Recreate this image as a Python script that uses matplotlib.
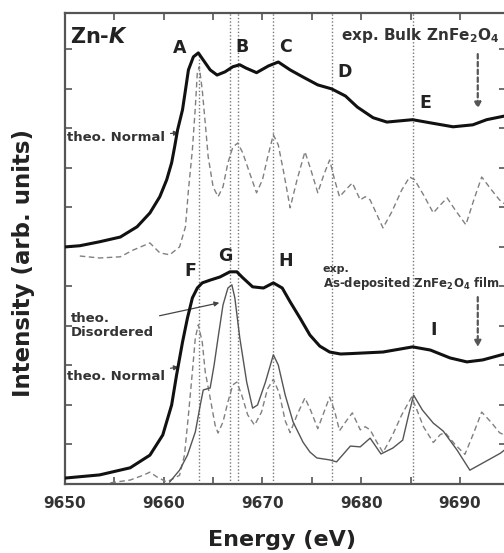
import numpy as np
import matplotlib
matplotlib.use("Agg")
import matplotlib.pyplot as plt

plt.rcParams['font.family'] = ['DejaVu Sans']
plt.rcParams['mathtext.fontset'] = 'custom'
plt.rcParams['mathtext.rm'] = 'DejaVu Sans:bold'
plt.rcParams['mathtext.it'] = 'DejaVu Sans:bold:italic'
plt.rcParams['mathtext.bf'] = 'DejaVu Sans:bold'

# exp. bulk ZnFe2O4 (upper thick curve)
bulk_e = [9650.0, 9651.5, 9653.5, 9655.6, 9657.3, 9658.6, 9659.6, 9660.3, 9660.8, 9661.1,
          9661.4, 9661.9, 9662.2, 9662.5, 9663.0, 9663.5, 9664.0, 9664.7, 9665.4, 9666.2,
          9667.0, 9667.7, 9668.3, 9669.4, 9670.6, 9671.6, 9672.8, 9674.1, 9675.6, 9677.0,
          9678.4, 9679.6, 9681.2, 9682.6, 9685.2, 9687.0, 9689.3, 9691.3, 9692.7, 9694.66]
bulk_i = [6.00, 6.03, 6.13, 6.25, 6.51, 6.86, 7.27, 7.70, 8.13, 8.53,
          8.96, 9.47, 9.97, 10.48, 10.81, 10.91, 10.73, 10.48, 10.35, 10.43,
          10.56, 10.61, 10.53, 10.41, 10.58, 10.68, 10.48, 10.30, 10.10, 10.00,
          9.82, 9.54, 9.27, 9.16, 9.22, 9.14, 9.04, 9.09, 9.22, 9.32]

# theo. normal, upper panel (dashed)
norm1_e = [9651.5, 9653.5, 9655.6, 9656.9, 9658.6, 9659.6, 9660.6, 9661.6, 9662.2, 9662.5,
           9662.9, 9663.2, 9663.4, 9663.6, 9663.9, 9664.2, 9664.5, 9665.0, 9665.5, 9666.0,
           9666.5, 9667.0, 9667.5, 9668.0, 9668.7, 9669.4, 9670.0, 9670.5, 9671.1, 9671.6,
           9672.1, 9672.8, 9673.5, 9674.3, 9674.9, 9675.6, 9676.2, 9676.8, 9677.3, 9677.8,
           9678.6, 9679.1, 9679.9, 9680.4, 9680.9, 9681.6, 9682.2, 9683.1, 9684.1, 9684.9,
           9685.4, 9686.3, 9687.3, 9688.0, 9688.7, 9689.5, 9690.6, 9691.4, 9692.2, 9693.2,
           9694.0, 9694.66]
norm1_i = [5.77, 5.72, 5.75, 5.92, 6.10, 5.85, 5.80, 6.00, 6.51, 7.44,
           8.46, 9.54, 10.41, 10.56, 9.97, 9.14, 8.28, 7.52, 7.27, 7.52,
           8.13, 8.53, 8.63, 8.38, 7.87, 7.37, 7.70, 8.25, 8.84, 8.58,
           7.95, 6.99, 7.70, 8.41, 7.95, 7.37, 7.82, 8.20, 7.70, 7.27,
           7.49, 7.62, 7.19, 7.27, 7.19, 6.81, 6.48, 6.89, 7.44, 7.77,
           7.70, 7.32, 6.86, 7.06, 7.24, 6.94, 6.56, 7.19, 7.77, 7.44,
           7.19, 7.06]

# exp. as-deposited film (lower thick curve)
film_e = [9650.0, 9653.5, 9656.6, 9658.6, 9659.9, 9660.8, 9661.3, 9661.9, 9662.4, 9662.9,
          9663.4, 9663.9, 9664.7, 9665.7, 9666.7, 9667.4, 9668.0, 9669.0, 9670.1, 9671.1,
          9672.0, 9672.8, 9673.8, 9674.8, 9675.8, 9676.8, 9677.9, 9678.9, 9682.2, 9685.2,
          9687.0, 9689.0, 9690.7, 9692.3, 9694.66]
film_i = [0.15, 0.23, 0.41, 0.73, 1.24, 2.00, 2.76, 3.59, 4.20, 4.71,
          4.96, 5.09, 5.16, 5.24, 5.37, 5.37, 5.22, 4.99, 4.96, 5.09,
          4.96, 4.61, 4.20, 3.77, 3.49, 3.34, 3.29, 3.30, 3.34, 3.47,
          3.39, 3.19, 3.09, 3.14, 3.30]

# theo. normal, lower panel (dashed)
norm2_e = [9654.6, 9656.6, 9657.9, 9658.6, 9659.3, 9660.3, 9661.6, 9662.1, 9662.5, 9662.9,
           9663.2, 9663.5, 9663.9, 9664.2, 9664.7, 9665.2, 9665.5, 9666.0, 9666.5, 9667.0,
           9667.4, 9667.9, 9668.5, 9669.2, 9669.9, 9670.5, 9671.1, 9671.7, 9672.3, 9672.8,
           9673.5, 9674.3, 9674.9, 9675.6, 9676.2, 9676.8, 9677.3, 9677.8, 9678.5, 9679.1,
           9679.9, 9680.4, 9680.9, 9681.6, 9682.2, 9683.1, 9684.1, 9685.1, 9685.6, 9686.3,
           9687.3, 9688.0, 9688.5, 9689.5, 9690.5, 9691.4, 9692.2, 9693.2, 9694.0, 9694.66]
norm2_i = [0.03, 0.10, 0.22, 0.30, 0.18, 0.05, 0.22, 0.73, 1.75, 2.84,
           3.70, 4.03, 3.59, 2.84, 2.18, 1.49, 1.29, 1.57, 2.08, 2.51,
           2.58, 2.25, 1.75, 1.49, 1.82, 2.40, 2.65, 2.30, 1.60, 1.30,
           1.75, 2.18, 1.85, 1.40, 1.80, 2.20, 1.85, 1.35, 1.60, 1.80,
           1.37, 1.45, 1.37, 1.05, 0.80, 1.20, 1.75, 2.20, 1.90, 1.45,
           1.05, 1.25, 1.30, 1.00, 0.75, 1.30, 1.82, 1.55, 1.30, 1.22]

# theo. disordered, lower panel (thin solid)
dis_e = [9660.6, 9661.6, 9662.4, 9663.2, 9663.7, 9664.0, 9664.7, 9665.1, 9665.5, 9666.0,
         9666.5, 9666.9, 9667.2, 9667.7, 9668.4, 9669.0, 9669.5, 9670.3, 9671.1, 9671.6,
         9672.3, 9673.1, 9674.1, 9674.8, 9675.5, 9676.8, 9677.5, 9678.9, 9679.9, 9680.9,
         9682.0, 9683.2, 9684.2, 9684.8, 9685.3, 9686.2, 9687.3, 9688.3, 9689.7, 9691.0,
         9692.3, 9694.1, 9694.66]
dis_i = [0.05, 0.35, 0.73, 1.32, 2.00, 2.38, 2.43, 3.01, 3.70, 4.53,
         4.96, 5.04, 4.71, 3.70, 2.58, 1.92, 2.00, 2.58, 3.27, 3.01,
         2.25, 1.57, 1.06, 0.81, 0.66, 0.61, 0.56, 0.96, 0.94, 1.16,
         0.76, 0.91, 1.11, 1.75, 2.25, 1.87, 1.54, 1.34, 0.86, 0.35,
         0.53, 0.78, 0.89]

# dotted reference energies
ref_e = [9663.6, 9666.7, 9667.5, 9671.1, 9677.0, 9685.2]

peak_labels = ['A', 'B', 'C', 'D', 'E', 'F', 'G', 'H', 'I']
peak_x = [9661.65, 9667.9, 9672.3, 9678.35, 9686.45, 9662.65, 9666.2, 9672.35, 9687.3]
peak_y = [11.04, 11.06, 11.06, 10.43, 9.65, 5.39, 5.77, 5.65, 3.90]

fig = plt.figure(figsize=(5.04, 5.53), dpi=100)
ax = fig.add_axes([65/504, 69/553, 441/504, 471/553])

for k, e in enumerate(ref_e):
    top = 10.9 if k == 0 else 11.92
    ax.plot([e, e], [0, top], color='#777777', lw=1.0, ls=(0, (1, 1.5)), zorder=1)

ax.plot(norm1_e, norm1_i, color='#808080', lw=1.0, ls=(0, (4, 2.5)), zorder=2)
ax.plot(norm2_e, norm2_i, color='#808080', lw=1.0, ls=(0, (4, 2.5)), zorder=2)
ax.plot(dis_e, dis_i, color='#555555', lw=1.0, zorder=3)
ax.plot(bulk_e, bulk_i, color='#111111', lw=2.2, zorder=4)
ax.plot(film_e, film_i, color='#111111', lw=2.2, zorder=4)

for lab, x, y in zip(peak_labels, peak_x, peak_y):
    ax.text(x, y, lab, ha='center', va='center', fontsize=12.5, fontweight='bold', color='#222222')

ax.text(9650.5, 11.32, 'Zn-$K$', ha='left', va='center', fontsize=15, fontweight='bold', color='#222222')
ax.text(9677.9, 11.36, 'exp. Bulk ZnFe$_2$O$_4$', ha='left', va='center', fontsize=11,
        fontweight='bold', color='#333333')
ax.text(9676.1, 5.43, 'exp.', ha='left', va='center', fontsize=8, fontweight='bold', color='#333333')
ax.text(9676.1, 5.08, 'As-deposited ZnFe$_2$O$_4$ film', ha='left', va='center', fontsize=8.5,
        fontweight='bold', color='#333333')

arrow_kw = dict(arrowstyle='-|>', color='#444444', lw=0.9, mutation_scale=7)
ax.annotate('theo. Normal', xy=(9661.8, 8.89), xytext=(9650.2, 8.78), ha='left', va='center',
            fontsize=9.5, fontweight='bold', color='#333333', arrowprops=arrow_kw)
ax.annotate('theo. Normal', xy=(9661.8, 2.97), xytext=(9650.2, 2.73), ha='left', va='center',
            fontsize=9.5, fontweight='bold', color='#333333', arrowprops=arrow_kw)
ax.annotate('theo.\nDisordered', xy=(9665.9, 4.6), xytext=(9650.6, 4.0), ha='left', va='center',
            fontsize=9.5, fontweight='bold', color='#333333', linespacing=1.1, arrowprops=arrow_kw)

dash_arrow = dict(arrowstyle='-|>', color='#555555', lw=1.6, ls=(0, (2, 1.5)), mutation_scale=9)
ax.annotate('', xy=(9691.8, 9.42), xytext=(9691.8, 10.95), arrowprops=dash_arrow)
ax.annotate('', xy=(9691.8, 3.39), xytext=(9691.8, 4.80), arrowprops=dash_arrow)

ax.set_xlim(9650, 9694.66)
ax.set_ylim(0, 11.92)
ax.set_xticks([9650, 9660, 9670, 9680, 9690])
ax.set_xticks(np.arange(9655, 9695, 10), minor=True)
ax.set_yticks(np.arange(0, 12, 1))
ax.set_yticklabels([])
ax.tick_params(direction='in', top=True, right=True, which='both', length=5, width=1.2,
               color='#555555', labelsize=11, labelcolor='#333333', pad=9)
for t in ax.get_xticklabels():
    t.set_fontweight('bold')
for s in ax.spines.values():
    s.set_color('#555555')
    s.set_linewidth(1.6)

ax.set_xlabel('Energy (eV)', fontsize=16, fontweight='bold', color='#222222')
ax.xaxis.set_label_coords((282 - 65) / 441, -(540 - 484) / 471)
ax.set_ylabel('Intensity (arb. units)', fontsize=16.5, fontweight='bold', color='#222222')
ax.yaxis.set_label_coords(-(65 - 24) / 441, 0.47)
ax.xaxis.label.set_va('center')
ax.yaxis.label.set_va('center')

fig.savefig('out.png', dpi=100)
